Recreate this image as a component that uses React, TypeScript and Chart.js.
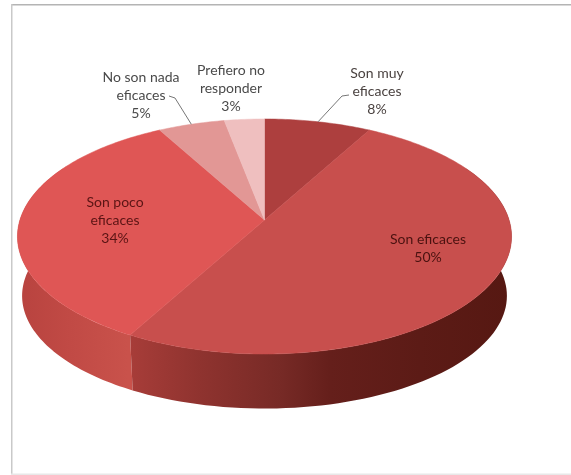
import React, { useEffect, useRef } from "react";
import { Chart, registerables } from "chart.js";

Chart.register(...registerables);

const categories = ["Son muy eficaces", "Son eficaces", "Son poco eficaces", "No son nada eficaces", "Prefiero no responder"];
const shares = [8, 50, 34, 5, 3];
const sliceColors = ["#AD3F3E", "#C84F4D", "#DF5655", "#E29795", "#EFBFBF"];

const labelLines = [
  ["Son muy", "eficaces", "8%"],
  ["Son eficaces", "50%"],
  ["Son poco", "eficaces", "34%"],
  ["No son nada", "eficaces", "5%"],
  ["Prefiero no", "responder", "3%"],
];

// Presentation only
const labelStyle = [
  { x: 377, y: 73, color: "#4A4240" },
  { x: 428, y: 239, color: "#4A1210" },
  { x: 115, y: 202, color: "#5A1414" },
  { x: 141, y: 77, color: "#4A4A4A" },
  { x: 231, y: 70, color: "#4A4A4A" },
];
const leaders: Record<number, number[][]> = {
  0: [[342, 96], [349, 95]],
  3: [[175, 98], [169, 96]],
};
const wallStops: Record<number, [number, string][]> = {
  1: [[128, "#A83D39"], [200, "#8F332F"], [280, "#772A26"], [330, "#651F1B"], [420, "#5C1B16"], [511, "#561812"]],
  2: [[18, "#B8433F"], [70, "#C14A45"], [128, "#C9524B"]],
};

const K = 0.1404;
const top = { cx: 264.5, cy: 220, a: 244.6, b: 115.2 };
const bottom = { cx: 264.5, cy: 280, a: 240, b: 110.5 };
const project = (p: typeof top, angle: number, r = 1) => {
  const u = r * Math.cos(angle);
  const v = r * Math.sin(angle);
  const w = 1 - K * v;
  return [p.cx + (p.a * u) / w, p.cy + (p.b * v) / w];
};

const pie3d = {
  id: "pie3d",
  beforeDraw(chart: any) {
    const c = chart.ctx;
    c.save();
    c.fillStyle = "#FFFFFF";
    c.fillRect(0, 0, 571, 475);
    c.fillStyle = "#B4B4B4";
    c.fillRect(11, 4, 560, 1.5);
    c.fillStyle = "#C9C9C9";
    c.fillRect(11, 4, 1.5, 471);
    c.fillStyle = "#E8E8E8";
    c.fillRect(11, 473.5, 560, 1.5);
    c.restore();
  },
  beforeDatasetsDraw(chart: any) {
    const c = chart.ctx;
    const arcs = chart.getDatasetMeta(0).data;
    c.save();
    // side wall of the disc; the extra sweep past the rim's extremes is hidden by the top face
    [2, 1].forEach((i) => {
      const arc = arcs[i];
      const from = Math.max(arc.startAngle, -0.5);
      const to = Math.min(arc.endAngle, Math.PI + 0.5);
      if (to <= from) return;
      const steps = 80;
      c.beginPath();
      for (let s = 0; s <= steps; s++) {
        const [x, y] = project(top, from + ((to - from) * s) / steps);
        s ? c.lineTo(x, y) : c.moveTo(x, y);
      }
      for (let s = steps; s >= 0; s--) {
        const [x, y] = project(bottom, from + ((to - from) * s) / steps);
        c.lineTo(x, y);
      }
      c.closePath();
      const stops = wallStops[i];
      const x0 = stops[0][0];
      const x1 = stops[stops.length - 1][0];
      const g = c.createLinearGradient(x0, 0, x1, 0);
      stops.forEach(([x, col]) => g.addColorStop((x - x0) / (x1 - x0), col));
      c.fillStyle = g;
      c.fill();
    });
    // top face, from each arc's angles
    arcs.forEach((arc: any, i: number) => {
      const steps = Math.max(8, Math.ceil((arc.endAngle - arc.startAngle) * 60));
      c.beginPath();
      c.moveTo(top.cx, top.cy);
      for (let s = 0; s <= steps; s++) {
        const [x, y] = project(top, arc.startAngle + ((arc.endAngle - arc.startAngle) * s) / steps);
        c.lineTo(x, y);
      }
      c.closePath();
      c.fillStyle = sliceColors[i];
      c.strokeStyle = sliceColors[i];
      c.lineWidth = 0.5;
      c.fill();
      c.stroke();
    });
    // leader lines start at the slice's mid-angle on the rim
    c.strokeStyle = "#777777";
    c.lineWidth = 1;
    Object.keys(leaders).forEach((k) => {
      const i = Number(k);
      const mid = (arcs[i].startAngle + arcs[i].endAngle) / 2;
      const [sx, sy] = project(top, mid);
      c.beginPath();
      c.moveTo(sx, sy);
      leaders[i].forEach(([x, y]) => c.lineTo(x, y));
      c.stroke();
    });
    // data labels
    c.font = '14px Lato, "Open Sans", sans-serif';
    c.textAlign = "center";
    c.textBaseline = "middle";
    labelLines.forEach((lines, i) => {
      c.fillStyle = labelStyle[i].color;
      lines.forEach((t, n) => c.fillText(t, labelStyle[i].x, labelStyle[i].y + n * 18));
    });
    c.restore();
    return false;
  },
};

export default function App() {
  const ref = useRef<HTMLCanvasElement>(null);
  useEffect(() => {
    document.body.style.margin = "0";
    const chart = new Chart(ref.current as HTMLCanvasElement, {
      type: "pie",
      data: {
        labels: categories,
        datasets: [{ data: shares, backgroundColor: sliceColors }],
      },
      options: {
        animation: false,
        responsive: false,
        plugins: { legend: { display: false }, tooltip: { enabled: false } },
      },
      plugins: [pie3d as any],
    });
    return () => chart.destroy();
  }, []);
  return (
    <canvas
      ref={ref}
      width={571}
      height={475}
      style={{ display: "block", width: 571, height: 475, filter: "blur(0.6px)" }}
    />
  );
}
